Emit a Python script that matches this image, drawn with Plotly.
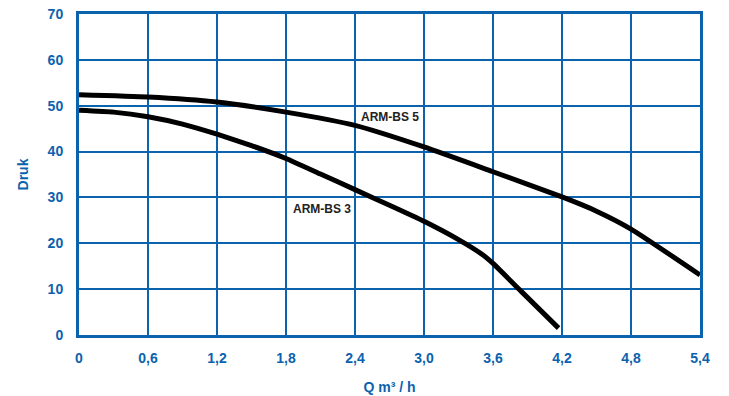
import plotly.graph_objects as go

q_bs5 = [0, 0.6, 1.2, 1.8, 2.4, 3.0, 3.6, 4.2, 4.5, 4.8, 5.4]
druk_bs5 = [52.4, 51.9, 50.8, 48.6, 45.7, 41.0, 35.6, 30.1, 27.0, 23.1, 13.1]

q_bs3 = [0, 0.3, 0.6, 0.9, 1.2, 1.5, 1.8, 2.1, 2.4, 2.7, 3.0, 3.3, 3.51, 3.6, 3.85, 4.17]
druk_bs3 = [49.0, 48.6, 47.6, 46.0, 43.8, 41.3, 38.5, 35.1, 31.7, 28.3, 24.8, 20.8, 17.5, 15.6, 9.4, 1.5]

x_ticks = [0, 0.6, 1.2, 1.8, 2.4, 3.0, 3.6, 4.2, 4.8, 5.4]
x_tick_labels = ["0", "0,6", "1,2", "1,8", "2,4", "3,0", "3,6", "4,2", "4,8", "5,4"]
y_ticks = [0, 10, 20, 30, 40, 50, 60, 70]

BLUE = "#0b62ad"
FONT = "Liberation Sans"

fig = go.Figure()
fig.add_trace(go.Scatter(x=q_bs5, y=druk_bs5, mode="lines",
                         line=dict(color="black", width=5, shape="spline", smoothing=0.5),
                         showlegend=False, hoverinfo="skip"))
fig.add_trace(go.Scatter(x=q_bs3, y=druk_bs3, mode="lines",
                         line=dict(color="black", width=5, shape="spline", smoothing=0.4),
                         showlegend=False, hoverinfo="skip"))

fig.add_annotation(x=2.70, y=47.5, text="<b>ARM-BS 5</b>", showarrow=False,
                   font=dict(family=FONT, size=12, color="#222"))
fig.add_annotation(x=2.11, y=27.4, text="<b>ARM-BS 3</b>", showarrow=False,
                   font=dict(family=FONT, size=12, color="#222"))

fig.update_xaxes(range=[0, 5.4], tickvals=x_ticks, ticktext=x_tick_labels,
                 showgrid=True, gridcolor=BLUE, gridwidth=2, automargin=False,
                 showline=True, linecolor=BLUE, linewidth=3, mirror=True,
                 zeroline=False, ticks="", ticklabelstandoff=8,
                 tickfont=dict(family=FONT, size=14, color=BLUE, weight="bold"),
                 title=dict(text="<b>Q m³ / h</b>", standoff=18,
                            font=dict(family=FONT, size=14, color=BLUE)))
fig.update_yaxes(range=[0, 70], tickvals=y_ticks,
                 showgrid=True, gridcolor=BLUE, gridwidth=2, automargin=False,
                 showline=True, linecolor=BLUE, linewidth=3, mirror=True,
                 zeroline=False, ticks="", ticklabelstandoff=10,
                 tickfont=dict(family=FONT, size=14, color=BLUE, weight="bold"),
                 title=dict(text="<b>Druk</b>", standoff=16,
                            font=dict(family=FONT, size=14, color=BLUE)))

fig.update_layout(width=729, height=396, margin=dict(l=79, r=29, t=14, b=61),
                  plot_bgcolor="white", paper_bgcolor="white")
fig.write_html("out.html", config={"displayModeBar": False},
               post_script="document.body.style.margin='0px';")
